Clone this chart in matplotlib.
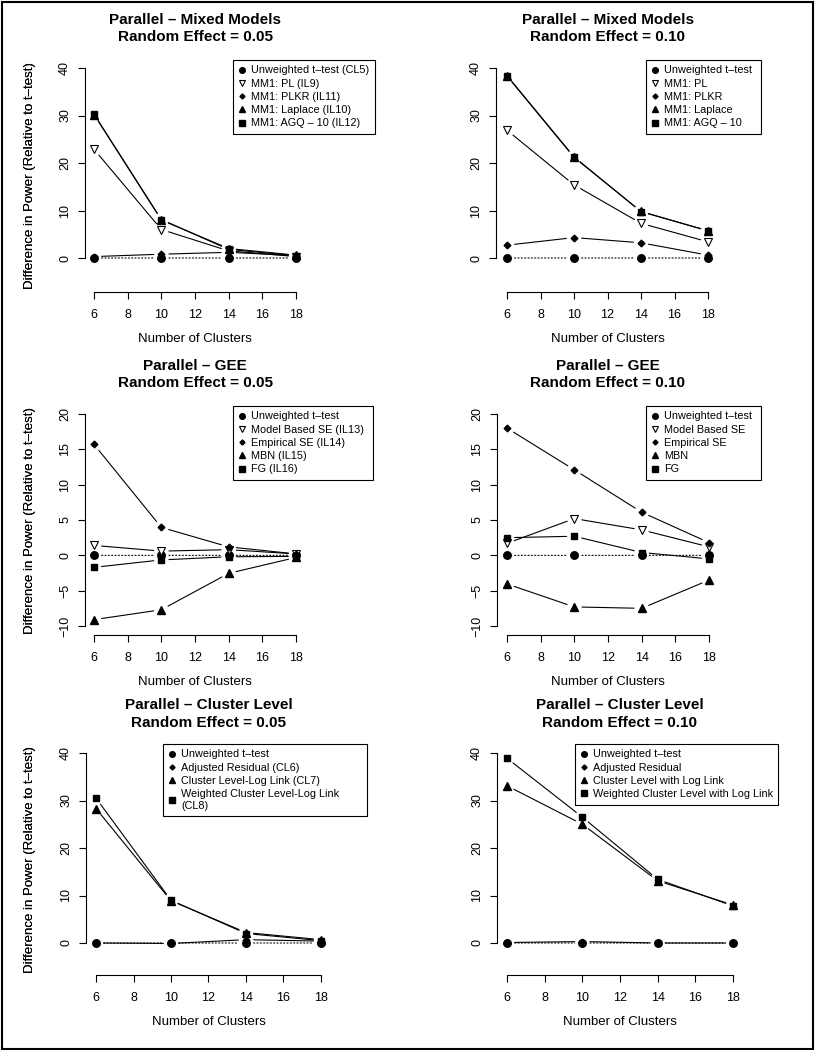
import matplotlib
matplotlib.use('Agg')
import matplotlib.pyplot as plt
from matplotlib.lines import Line2D
from matplotlib.patches import Rectangle

plt.rcParams.update({'font.family': ['Liberation Sans', 'DejaVu Sans'],
                     'figure.facecolor': 'white', 'axes.facecolor': 'white'})

W, H = 815, 1050

# ---- data ----
clusters = [6, 10, 14, 18]
ttest = [0, 0, 0, 0]

mm05_pl = [22.9, 6.0, 1.5, 0.3]
mm05_plkr = [0.3, 0.8, 1.2, 0.5]
mm05_laplace = [30.2, 8.0, 2.0, 0.6]
mm05_agq = [30.3, 8.1, 1.8, 0.5]

mm10_pl = [26.9, 15.4, 7.3, 3.4]
mm10_plkr = [2.7, 4.3, 3.2, 0.6]
mm10_laplace = [38.3, 21.2, 9.8, 5.7]
mm10_agq = [38.4, 21.3, 9.75, 5.75]

gee05_model = [1.4, 0.6, 0.8, 0.2]
gee05_emp = [15.7, 3.95, 1.2, 0.2]
gee05_mbn = [-9.1, -7.7, -2.55, -0.3]
gee05_fg = [-1.7, -0.65, -0.2, -0.15]

gee10_model = [1.7, 5.2, 3.6, 1.2]
gee10_emp = [18.0, 12.1, 6.1, 1.8]
gee10_mbn = [-4.05, -7.3, -7.5, -3.5]
gee10_fg = [2.5, 2.7, 0.4, -0.5]

cl05_adj = [0.0, -0.1, 0.7, 0.4]
cl05_log = [28.3, 8.9, 2.2, 0.7]
cl05_wtd = [30.5, 9.0, 2.0, 0.5]

cl10_adj = [0.1, 0.3, 0.0, 0.0]
cl10_log = [33.1, 25.0, 13.1, 8.0]
cl10_wtd = [38.9, 26.5, 13.4, 7.8]

mm05_labels = ['Unweighted t\u2013test (CL5)', 'MM1: PL (IL9)', 'MM1: PLKR (IL11)',
               'MM1: Laplace (IL10)', 'MM1: AGQ \u2013 10 (IL12)']
mm10_labels = ['Unweighted t\u2013test', 'MM1: PL', 'MM1: PLKR', 'MM1: Laplace', 'MM1: AGQ \u2013 10']
gee05_labels = ['Unweighted t\u2013test', 'Model Based SE (IL13)', 'Empirical SE (IL14)',
                'MBN (IL15)', 'FG (IL16)']
gee10_labels = ['Unweighted t\u2013test', 'Model Based SE', 'Empirical SE', 'MBN', 'FG']
cl05_labels = ['Unweighted t\u2013test', 'Adjusted Residual (CL6)', 'Cluster Level-Log Link (CL7)',
               'Weighted Cluster Level-Log Link\n(CL8)']
cl10_labels = ['Unweighted t\u2013test', 'Adjusted Residual', 'Cluster Level with Log Link',
               'Weighted Cluster Level with Log Link']

# marker styles (R pch 19, 6, 18, 17, 15)
CIRC = dict(marker='o', ms=5.4, mfc='black', mec='black')
TRI_OPEN = dict(marker='v', ms=6.2, mfc='white', mec='black', mew=0.8)
DIAM = dict(marker='D', ms=3.4, mfc='black', mec='black')
TRI = dict(marker='^', ms=5.7, mfc='black', mec='black')
SQ = dict(marker='s', ms=5.0, mfc='black', mec='black')


def draw_b(ax, xs, ys, style, ls='-'):
    # R type="b": points joined by lines that stop short of the points
    for i in range(len(xs) - 1):
        ax.annotate('', xy=(xs[i + 1], ys[i + 1]), xytext=(xs[i], ys[i]),
                    arrowprops=dict(arrowstyle='-', shrinkA=5.5, shrinkB=5.5,
                                    lw=0.8, color='black', linestyle=ls))
    ax.plot(xs, ys, linestyle='none', zorder=3, **style)


def make_panel(g, title, yticks, series, labels, leg):
    x6, x18, yax, ytv, ytp, ybv, ybp, xa = g
    ux = (x18 - x6) / 12.0
    d = (x6 - yax) / ux
    uy = (ybp - ytp) / (ytv - ybv)
    left, right = yax, x18 + (x6 - yax)
    top = ytp - 8
    ax = fig.add_axes([left / W, 1 - xa / H, (right - left) / W, (xa - top) / H])
    ax.set_xlim(6 - d, 18 + d)
    ax.set_ylim(ybv - (xa - ybp) / uy, ytv + 8 / uy)
    for s in ['top', 'right']:
        ax.spines[s].set_visible(False)
    ax.spines['left'].set_bounds(yticks[0], yticks[-1])
    ax.spines['bottom'].set_bounds(6, 18)
    for s in ['left', 'bottom']:
        ax.spines[s].set_linewidth(0.8)
    ax.set_xticks(range(6, 19, 2))
    ax.set_yticks(yticks)
    ax.tick_params(direction='out', length=5, width=0.8, labelsize=9)
    ax.tick_params(axis='x', pad=7)
    ax.tick_params(axis='y', pad=5)
    for t in ax.get_yticklabels():
        t.set_rotation(90)
        t.set_va('center')
    hpx = xa - top
    wpx = right - left
    ax.set_xlabel('Number of Clusters', fontsize=9.5)
    ax.xaxis.label.set_va('center')
    ax.xaxis.set_label_coords(0.5, -47 / hpx)
    ax.set_ylabel('Difference in Power (Relative to t\u2013test)', fontsize=9.5)
    ax.yaxis.label.set_va('center')
    ax.yaxis.set_label_coords((30 - left) / wpx, 0.5)
    ax.set_title(title, fontsize=11, fontweight='bold', linespacing=1.35,
                 y=1 + (top - leg[3]) / hpx, va='center', pad=0)

    draw_b(ax, clusters, ttest, CIRC, ls=(0, (1, 2)))
    handles = [Line2D([], [], linestyle='none', **CIRC)]
    for ys, st in series:
        draw_b(ax, clusters, ys, st)
        handles.append(Line2D([], [], linestyle='none', **st))
    lx0, ly0, lx1 = leg[0], leg[1], leg[2]
    lg = ax.legend(handles, labels, loc='upper left', mode='expand',
                   bbox_to_anchor=(lx0 / W, 1 - ly0 / H, (lx1 - lx0) / W, 0),
                   bbox_transform=fig.transFigure, borderaxespad=0,
                   fontsize=7.8, markerscale=0.75, handlelength=0.6, handletextpad=0.6,
                   borderpad=0.5, labelspacing=0.3, fancybox=False, framealpha=1,
                   edgecolor='black')
    lg.get_frame().set_linewidth(0.8)
    return ax


fig = plt.figure(figsize=(W / 100, H / 100), dpi=100)

# geometry: x6 px, x18 px, y-axis px, top tick value, its px, bottom tick value, its px, x-axis px
make_panel((94, 296, 85, 40, 68, 0, 258, 292), 'Parallel \u2013 Mixed Models\nRandom Effect = 0.05',
           [0, 10, 20, 30, 40],
           [(mm05_pl, TRI_OPEN), (mm05_plkr, DIAM), (mm05_laplace, TRI), (mm05_agq, SQ)],
           mm05_labels, (233, 60, 375, 28.5))
make_panel((507, 708, 496, 40, 68, 0, 258, 292), 'Parallel \u2013 Mixed Models\nRandom Effect = 0.10',
           [0, 10, 20, 30, 40],
           [(mm10_pl, TRI_OPEN), (mm10_plkr, DIAM), (mm10_laplace, TRI), (mm10_agq, SQ)],
           mm10_labels, (646, 60, 761, 28.5))
make_panel((94, 296, 85, 20, 414, -10, 626, 635), 'Parallel \u2013 GEE\nRandom Effect = 0.05',
           [-10, -5, 0, 5, 10, 15, 20],
           [(gee05_model, TRI_OPEN), (gee05_emp, DIAM), (gee05_mbn, TRI), (gee05_fg, SQ)],
           gee05_labels, (233, 406, 373, 374.5))
make_panel((507, 709, 497, 20, 414, -10, 626, 635), 'Parallel \u2013 GEE\nRandom Effect = 0.10',
           [-10, -5, 0, 5, 10, 15, 20],
           [(gee10_model, TRI_OPEN), (gee10_emp, DIAM), (gee10_mbn, TRI), (gee10_fg, SQ)],
           gee10_labels, (646, 406, 761, 374.5))
make_panel((96, 321, 86, 40, 753, 0, 943, 975), 'Parallel \u2013 Cluster Level\nRandom Effect = 0.05',
           [0, 10, 20, 30, 40],
           [(cl05_adj, DIAM), (cl05_log, TRI), (cl05_wtd, SQ)],
           cl05_labels, (163, 744, 367, 714))
make_panel((507, 733, 497, 40, 753, 0, 943, 975), 'Parallel \u2013 Cluster Level\nRandom Effect = 0.10',
           [0, 10, 20, 30, 40],
           [(cl10_adj, DIAM), (cl10_log, TRI), (cl10_wtd, SQ)],
           cl10_labels, (575, 744, 778, 714))

fig.patches.append(Rectangle((1.5 / W, 1.5 / H), 1 - 3.5 / W, 1 - 3.5 / H, transform=fig.transFigure,
                             fill=False, ec='black', lw=1.5))

plt.savefig('out.png', dpi=100)
plt.close()
